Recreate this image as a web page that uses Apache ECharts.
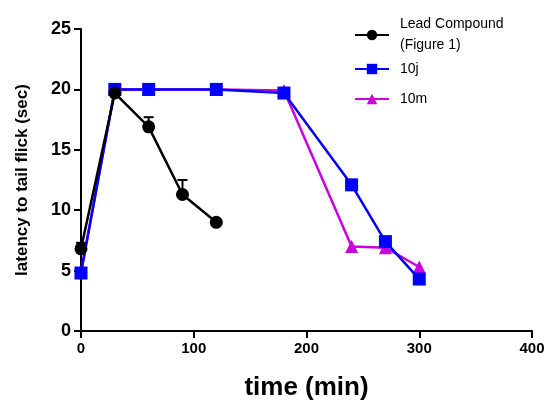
<!DOCTYPE html>
<html>
<head>
<meta charset="utf-8">
<script src="https://cdn.jsdelivr.net/npm/echarts@6/dist/echarts.min.js"></script>
<style>
html, body { margin: 0; padding: 0; background: #fff; }
#main { width: 551px; height: 411px; }
</style>
</head>
<body>
<div id="main"></div>
<script>
var myChart = echarts.init(document.getElementById('main'));

var leadTime = [0, 30, 60, 90, 120];
var leadValue = [6.8, 19.7, 16.9, 11.3, 9.0];
var leadErrUpper = [7.3, 19.9, 17.7, 12.5, 9.0];

var time10j = [0, 30, 60, 120, 180, 240, 270, 300];
var value10j = [4.8, 20, 20, 20, 19.7, 12.1, 7.4, 4.3];

var time10m = [0, 30, 60, 120, 180, 240, 270, 300];
var value10m = [4.9, 20, 20, 20, 19.9, 7.0, 6.9, 5.3];

var yTicks = [0, 5, 10, 15, 20, 25];
var xTicks = [0, 100, 200, 300, 400];

function pairs(xs, ys) {
	var out = [];
	for (var i = 0; i < xs.length; i++) {
		out.push([xs[i], ys[i]]);
	}
	return out;
}

var errData = [];
for (var i = 0; i < leadTime.length; i++) {
	errData.push([leadTime[i], leadValue[i], leadErrUpper[i]]);
}

var font = 'Liberation Sans, Arial, sans-serif';
var legendText = { fontFamily: font, fontSize: 14, color: '#000', padding: [0, 0, 0, 6] };

option = {
	animation: false,
	grid: {
		left: 81,
		right: 19,
		top: 29,
		bottom: 80
	},
	legend: [{
		data: ['Lead Compound\n(Figure 1)'],
		left: 349,
		top: 9,
		itemWidth: 34,
		itemHeight: 13,
		textStyle: { fontFamily: font, fontSize: 14, color: '#000', lineHeight: 21, padding: [0, 0, 0, 6] }
	}, {
		data: ['10j'],
		left: 349,
		top: 57,
		itemWidth: 34,
		itemHeight: 13,
		textStyle: legendText
	}, {
		data: ['10m'],
		left: 349,
		top: 87,
		itemWidth: 34,
		itemHeight: 13,
		textStyle: legendText
	}],
	xAxis: {
		type: 'value',
		min: 0,
		max: 400,
		interval: 100,
		name: 'time (min)',
		nameLocation: 'middle',
		nameGap: 44,
		nameTextStyle: { fontFamily: font, fontSize: 26, fontWeight: 'bold', color: '#000' },
		axisLine: { onZero: false, lineStyle: { color: '#000', width: 2 } },
		axisTick: { show: true, length: 7, lineStyle: { color: '#000', width: 2 } },
		axisLabel: { fontFamily: font, fontSize: 15, fontWeight: 'bold', color: '#000', margin: 10 },
		splitLine: { show: false }
	},
	yAxis: {
		type: 'value',
		min: 0,
		max: 25,
		interval: 5,
		name: 'latency to tail flick (sec)',
		nameLocation: 'middle',
		nameGap: 50,
		nameTextStyle: { fontFamily: font, fontSize: 17, fontWeight: 'bold', color: '#000' },
		axisLine: { show: true, lineStyle: { color: '#000', width: 2 } },
		axisTick: { show: true, length: 7, lineStyle: { color: '#000', width: 2 } },
		axisLabel: { fontFamily: font, fontSize: 18, fontWeight: 'bold', color: '#000', margin: 10 },
		splitLine: { show: false }
	},
	series: [{
		name: '10m',
		type: 'line',
		data: pairs(time10m, value10m),
		symbol: 'triangle',
		symbolSize: 13,
		color: '#cc00dd',
		lineStyle: { width: 2.5 },
		z: 2
	}, {
		name: '10j',
		type: 'line',
		data: pairs(time10j, value10j),
		symbol: 'rect',
		symbolSize: 13,
		color: '#0000ff',
		lineStyle: { width: 2.5 },
		z: 3
	}, {
		name: 'Lead Compound\n(Figure 1)',
		type: 'line',
		data: pairs(leadTime, leadValue),
		symbol: 'circle',
		symbolSize: 13,
		color: '#000',
		lineStyle: { width: 2.5 },
		z: 4
	}, {
		// error bars, upper only
		type: 'custom',
		data: errData,
		z: 4,
		renderItem: function(params, api) {
			var base = api.coord([api.value(0), api.value(1)]);
			var top = api.coord([api.value(0), api.value(2)]);
			var hw = 5;
			return {
				type: 'group',
				children: [{
					type: 'line',
					shape: { x1: base[0], y1: base[1], x2: top[0], y2: top[1] },
					style: { stroke: '#000', lineWidth: 2 }
				}, {
					type: 'line',
					shape: { x1: top[0] - hw, y1: top[1], x2: top[0] + hw, y2: top[1] },
					style: { stroke: '#000', lineWidth: 2 }
				}]
			};
		}
	}]
};

myChart.setOption(option);
window.onresize = myChart.resize;
</script>
</body>
</html>
